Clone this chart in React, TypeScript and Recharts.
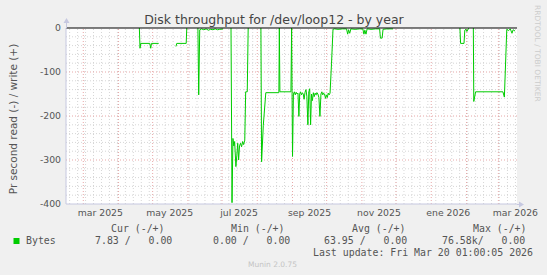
import { LineChart, Line, XAxis, YAxis, CartesianGrid, ReferenceLine } from "recharts";

// x = days since 1 mar 2025, y = bytes/s read (drawn negative), null = no data
const readDays = [
  49.3, 49.9, 50.5, 58.5, 59.3, 60, 66.3, 67,
  81.5, 82.2, 90.5, 91, 92,
  100.8, 101.5, 102.4, 104, 106, 108, 110, 112, 114, 116, 118, 120, 123, 124,
  129.9, 130.8, 131.6, 132.4, 133.1, 134.2, 135, 135.8, 136.6, 137.4, 138.3, 139.2, 140.1, 141, 142, 142.8, 144.2, 145, 146,
  156.2, 156.8, 158.3, 160.5, 172, 172.4, 172.9, 182.6, 183.2, 184, 184.8,
  185.6, 186.4, 187.2, 188, 188.8, 189.6, 190.3, 191, 191.8, 192.6, 193.4, 194.2, 195, 195.8, 196.6, 197.5,
  198.3, 199.1, 199.9, 200.7, 201.5, 202.3, 203.1, 203.9, 204.7, 205.5, 206.3, 207.2, 208.1, 209, 209.8,
  210.6, 211.4, 212.2, 213, 213.8, 214.6, 215.4, 216.2, 217, 218.3, 219.6,
  221, 224, 228, 231.5, 232.5, 233.3, 234.3, 235.3, 239, 243, 245.8, 246.8, 247.6, 248.6, 249.6, 253, 257,
  260.6, 261.3, 262.8, 263.6, 267, 272.4, 273,
  331.2, 331.8, 334.8, 335.5, 336.5, 337.3, 338.6, 339.2, 340,
  343, 343.4, 345, 369, 370.3, 372.4, 374, 375.5, 377, 378, 379.7,
];
const readBytes = [
  0, -46, -35, -35, -46, -35, -35, null,
  -42, -35, -35, 0, null,
  0, -152, -4, -2, -4, -2, -5, -3, -4, -2, -4, -3, -2, null,
  0, -397, -251, -268, -258, -315, -290, -262, -300, -268, -262, -270, -258, -265, -255, -145, -145, 0, null,
  0, -304, -221, -147, -147, 0, -145, -145, 0, -292, -150,
  -145, -152, -146, -150, -148, -201, -150, -145, -152, -147, -150, -162, -146, -140, -155, -220,
  -145, -138, -220, -150, -165, -147, -156, -148, -152, -147, -150, -158, -201, -150, -145,
  -152, -148, -150, -160, -152, -158, -148, -152, -148, -80, -3,
  -2, -3, -2, -2, -14, -4, -12, -2, -3, -2, -2, -14, -5, -14, -2, -3, -2,
  -2, -23, -23, -3, -2, -2, null,
  0, -35, -35, -5, -3, -8, -2, 0, null,
  0, -167, -145, -145, -157, -3, -6, -2, -12, -4, -7,
];

const monthStarts = [0, 31, 61, 92, 122, 153, 184, 214, 245, 275, 306, 337, 365];
const labelDays = [15, 76, 137, 199, 260, 321, 380];
const labelNames = ["mar 2025", "may 2025", "jul 2025", "sep 2025", "nov 2025", "ene 2026", "mar 2026"];
const yTicks = [0, -100, -200, -300, -400];

const legendHeads = ["Cur (-/+)", "Min (-/+)", "Avg (-/+)", "Max (-/+)"];
const legendVals = ["7.83 /   0.00", "0.00 /   0.00", "63.95 /   0.00", "76.58k/   0.00"];

const data = readDays.map((d, i) => ({ day: d, read: readBytes[i] }));

const weekLines: number[] = [];
for (let d = -12; d < 381; d += 7) weekLines.push(d);
const minorY: number[] = [];
for (let v = -20; v > -400; v -= 20) if (v % 100 !== 0) minorY.push(v);

const axisFont = "DejaVu Sans, sans-serif";
const monoFont = "DejaVu Sans Mono, monospace";
const axisColor = "#c6c8e0";

export default function App() {
  return (
    <div style={{ position: "absolute", left: 0, top: 0, width: 547, height: 275, background: "#f0f0f0" }}>
      <LineChart width={547} height={275} data={data} margin={{ top: 28, right: 30, left: 0, bottom: 0 }}>
        <CartesianGrid fill="#ffffff" stroke="none" horizontal={false} vertical={false} />
        {weekLines.map((d) => (
          <ReferenceLine key={"w" + d} x={d} stroke="#d6d6d6" strokeDasharray="1 2" />
        ))}
        {minorY.map((v) => (
          <ReferenceLine key={"h" + v} y={v} stroke="#d6d6d6" strokeDasharray="1 2" />
        ))}
        {monthStarts.map((d) => (
          <ReferenceLine key={"m" + d} x={d} stroke="#e7a8a8" strokeDasharray="1 2" />
        ))}
        {[-100, -200, -300].map((v) => (
          <ReferenceLine key={"r" + v} y={v} stroke="#e7a8a8" strokeDasharray="1 2" />
        ))}
        <XAxis
          dataKey="day"
          type="number"
          domain={[-15.2, 381.4]}
          allowDataOverflow
          ticks={labelDays}
          interval={0}
          tickFormatter={(v: number) => labelNames[labelDays.indexOf(v)] ?? ""}
          tickLine={false}
          tickSize={5}
          tickMargin={0}
          height={71}
          axisLine={{ stroke: axisColor }}
          tick={{ fontSize: 9.3, fill: "#555", fontFamily: axisFont }}
        />
        <YAxis
          type="number"
          domain={[-400, 0]}
          ticks={yTicks}
          interval={0}
          width={66}
          tickLine={false}
          tickSize={5}
          tickMargin={0}
          axisLine={{ stroke: axisColor }}
          tick={{ fontSize: 9.3, fill: "#555", fontFamily: axisFont }}
        />
        <Line
          dataKey="read"
          type="linear"
          stroke="#00cc00"
          strokeWidth={1}
          dot={false}
          connectNulls={false}
          isAnimationActive={false}
        />
        <ReferenceLine y={0} stroke="#000000" strokeWidth={1} />
      </LineChart>
      <svg
        width={547}
        height={275}
        style={{ position: "absolute", left: 0, top: 0, pointerEvents: "none" }}
      >
        <path d="M66.5 28 V21" stroke={axisColor} />
        <path d="M63.5 23 L66.5 18 L69.5 23 Z" fill={axisColor} />
        <path d="M517 204.5 H521" stroke={axisColor} />
        <path d="M519 201.5 L524 204.5 L519 207.5 Z" fill={axisColor} />
        <text x={274} y={23.5} textAnchor="middle" fontSize={12.5} fill="#444" fontFamily={axisFont}>
          Disk throughput for /dev/loop12 - by year
        </text>
        <text
          transform="translate(16.5,119) rotate(-90)"
          textAnchor="middle"
          fontSize={10.5}
          fill="#555"
          fontFamily={axisFont}
        >
          Pr second read (-) / write (+)
        </text>
        <text
          transform="translate(534.5,5) rotate(90)"
          fontSize={7.5}
          fill="#cccccc"
          fontFamily={axisFont}
        >
          RRDTOOL / TOBI OETIKER
        </text>
        {legendHeads.map((h, i) => (
          <text
            key={h}
            x={[111, 231, 352, 473][i]}
            y={231.5}
            fontSize={9.9}
            fill="#555"
            fontFamily={monoFont}
            style={{ whiteSpace: "pre" }}
          >
            {h}
          </text>
        ))}
        <rect x={13.5} y={238} width={6} height={6} fill="#00cc00" />
        <text x={26} y={243.5} fontSize={9.9} fill="#555" fontFamily={monoFont}>
          Bytes
        </text>
        {legendVals.map((v, i) => (
          <text
            key={v + i}
            x={[95, 213, 324, 442][i]}
            y={243.5}
            fontSize={9.9}
            fill="#555"
            fontFamily={monoFont}
            style={{ whiteSpace: "pre" }}
          >
            {v}
          </text>
        ))}
        <text x={533} y={255.5} textAnchor="end" fontSize={9.9} fill="#555" fontFamily={monoFont} style={{ whiteSpace: "pre" }}>
          Last update: Fri Mar 20 01:00:05 2026
        </text>
        <text x={272.5} y={267} textAnchor="middle" fontSize={7.5} fill="#c4c4c4" fontFamily={axisFont}>
          Munin 2.0.75
        </text>
      </svg>
    </div>
  );
}
